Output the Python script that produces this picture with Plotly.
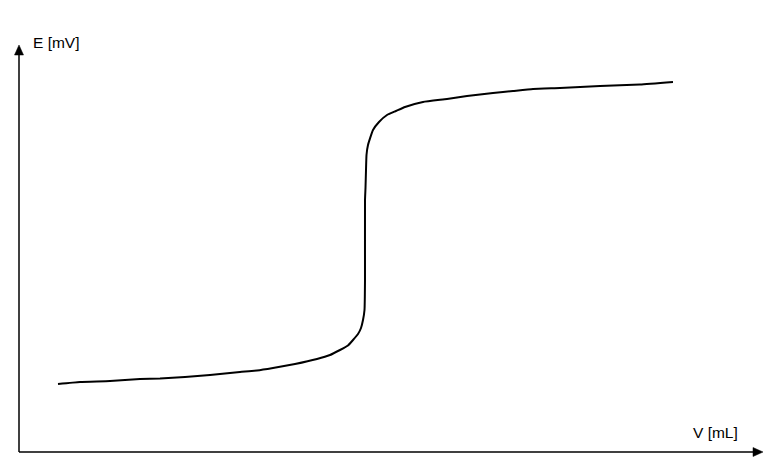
import plotly.graph_objects as go

# Titration curve (in chart units)
V = [58, 80, 110, 140, 160, 185, 210, 240, 257, 273, 295, 317, 330, 340, 348, 353,
     358, 361, 363, 364.5, 365, 365, 365.5, 366, 366.5, 368, 373, 379, 387, 396, 405,
     423, 447, 467, 493, 513, 533, 560, 600, 640, 673]
E_px = [384, 382, 381, 379, 378.5, 377, 375, 372, 370.5, 368, 364, 359, 355, 350, 345.5, 340,
        334, 328, 320, 310, 280, 200, 188, 170, 155, 145, 130, 122, 115, 111, 107,
        102, 99, 96, 93, 91, 89, 88, 86, 84.5, 82]
H = 467
E = [H - p for p in E_px]

x_label = "V [mL]"
y_label = "E [mV]"

fig = go.Figure()
fig.add_trace(go.Scatter(x=V, y=E, mode="lines",
                         line=dict(color="black", width=2, shape="spline", smoothing=0.4),
                         hoverinfo="skip", showlegend=False))

# axis lines with arrowheads
ox, oy = 19, H - 452
fig.add_shape(type="line", xref="x", yref="y", x0=ox, y0=oy, x1=ox, y1=H - 54,
              line=dict(color="black", width=1.5))
fig.add_shape(type="path", xref="x", yref="y",
              path=f"M {ox-4.5},{H-55} L {ox+4.5},{H-55} L {ox},{H-45} Z",
              fillcolor="black", line=dict(color="black", width=0.5))
fig.add_shape(type="line", xref="x", yref="y", x0=ox, y0=oy, x1=754, y1=oy,
              line=dict(color="black", width=1.5))
fig.add_shape(type="path", xref="x", yref="y",
              path=f"M 753,{oy+4.5} L 753,{oy-4.5} L 763,{oy} Z",
              fillcolor="black", line=dict(color="black", width=0.5))

fig.add_annotation(x=31, y=H - 42, xref="x", yref="y", text=y_label, showarrow=False,
                   xanchor="left", yanchor="middle",
                   font=dict(family="Liberation Sans, Arial", size=15.5, color="black"))
fig.add_annotation(x=691, y=H - 432, xref="x", yref="y", text=x_label, showarrow=False,
                   xanchor="left", yanchor="middle",
                   font=dict(family="Liberation Sans, Arial", size=15.5, color="black"))

fig.update_layout(width=783, height=467, margin=dict(l=0, r=0, t=0, b=0),
                  paper_bgcolor="white", plot_bgcolor="white",
                  xaxis=dict(range=[0, 783], visible=False, fixedrange=True),
                  yaxis=dict(range=[0, 467], visible=False, fixedrange=True))
fig.write_html("out.html")
